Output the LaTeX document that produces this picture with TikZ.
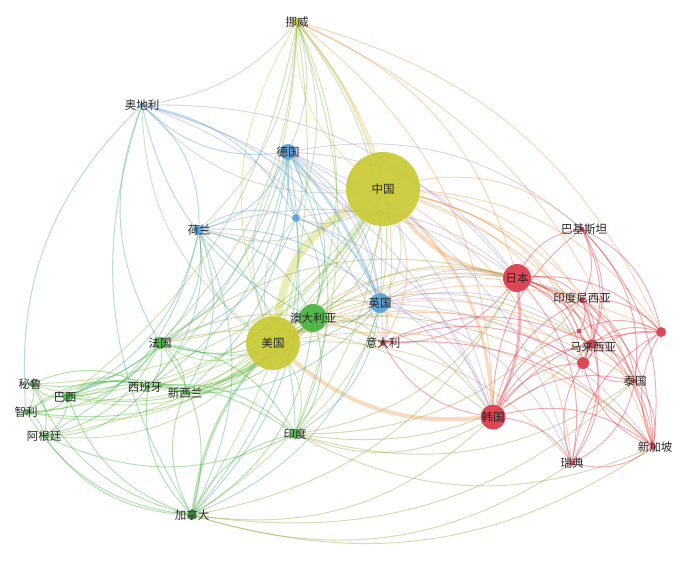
\documentclass[tikz,border=0pt]{standalone}
\usepackage{fontspec}
\newfontfamily\cjk{Noto Sans CJK SC}
\pgfdeclarelayer{edges}
\pgfsetlayers{edges,main}
\definecolor{yel}{RGB}{200,200,48}
\definecolor{blu}{RGB}{82,158,218}
\definecolor{grn}{RGB}{66,178,58}
\definecolor{rd}{RGB}{218,52,68}
\definecolor{orng}{RGB}{238,150,72}
\definecolor{prp}{RGB}{170,150,210}

\begin{document}
\begin{tikzpicture}[x=1pt, y=-1pt,
  country/.style 2 args={circle, inner sep=0pt, fill=#1, fill opacity=.9, minimum size=#2},
  every label/.style={font=\cjk\fontsize{11.5}{11.5}\selectfont, text=black!85, text opacity=1, inner sep=0pt},
  link/.style={draw=#1, line width=1pt, opacity=.4},
  band/.style 2 args={draw=#1, line width=#2, opacity=.35}]
  \useasboundingbox (0,0) rectangle (700,562);

  % yellow
  \node[country={yel}{74pt}, label=center:中国] (china) at (383,189) {};
  \node[country={yel}{54pt}, label=center:美国] (usa) at (273,343) {};
  \node[country={yel}{8pt}, label=center:挪威] (norway) at (297,22) {};
  % blue
  \node[country={blu}{16pt}, label=center:德国] (germany) at (288,152) {};
  \node[country={blu}{8pt}] (bluex) at (296,218) {};
  \node[country={blu}{10pt}, label=center:荷兰] (netherlands) at (199,230) {};
  \node[country={blu}{4pt}, label=center:奥地利] (austria) at (142,105) {};
  \node[country={blu}{20pt}, label=center:英国] (uk) at (380,303) {};
  % green
  \node[country={grn}{28pt}, label=center:澳大利亚] (australia) at (313,318) {};
  \node[country={grn}{12pt}, label=center:法国] (france) at (160,343) {};
  \node[country={grn}{5pt}, label={[xshift=-3pt]center:西班牙}] (spain) at (148,387) {};
  \node[country={grn}{4pt}, label=center:新西兰] (newzealand) at (185,393) {};
  \node[country={grn}{6pt}, label={[xshift=-2pt]center:秘鲁}] (peru) at (32,384) {};
  \node[country={grn}{10pt}, label={[xshift=-3pt]center:巴西}] (brazil) at (68,397) {};
  \node[country={grn}{6pt}, label=center:智利] (chile) at (26,412) {};
  \node[country={grn}{4pt}, label=center:阿根廷] (argentina) at (44,436) {};
  \node[country={grn}{10pt}, label=center:印度] (india) at (295,434) {};
  \node[country={grn}{10pt}, label=center:加拿大] (canada) at (192,515) {};
  % red
  \node[country={rd}{6pt}, label=center:意大利] (italy) at (383,343) {};
  \node[country={rd}{28pt}, label=center:日本] (japan) at (517,278) {};
  \node[country={rd}{25pt}, label=center:韩国] (korea) at (493,417) {};
  \node[country={rd}{5pt}, label={[xshift=2pt]center:巴基斯坦}] (pakistan) at (582,229) {};
  \node[country={rd}{6pt}, label={[yshift=2pt]center:印度尼西亚}] (indonesia) at (582,300) {};
  \node[country={rd}{5pt}] (redA) at (579,331) {};
  \node[country={rd}{10pt}] (redR) at (661,332) {};
  \node[country={rd}{10pt}, label={[xshift=1pt,yshift=-3pt]center:马来西亚}] (malaysia) at (592,344) {};
  \node[country={rd}{12pt}] (redC) at (583,363) {};
  \node[country={rd}{5pt}, label=center:泰国] (thailand) at (635,381) {};
  \node[country={rd}{6pt}, label={[xshift=2pt]center:新加坡}] (singapore) at (653,447) {};
  \node[country={rd}{5pt}, label=center:瑞典] (sweden) at (572,463) {};

  \begin{pgfonlayer}{edges}
  % thick links
  \draw[band={yel}{8pt}] (usa) to[bend left=25] (china);
  \draw[band={orng}{4pt}] (china) to[bend right=20] (japan);
  \draw[band={orng}{3pt}] (china) to[bend left=20] (korea);
  \draw[band={orng}{4pt}] (usa) to[bend right=22] (korea);
  \draw[band={grn}{3pt}] (usa) to[bend left=15] (australia);
  \draw[band={grn}{3pt}] (usa) to[bend right=15] (canada);
  \draw[band={rd}{3pt}] (japan) to[bend left=15] (korea);
  \draw[band={blu}{3pt}] (germany) to[bend left=10] (uk);
  \draw[band={blu}{2pt}] (germany) to[bend right=10] (bluex);
  \draw[band={yel}{2.5pt}] (norway) to[bend left=10] (china);

  % china
  \foreach \t in {norway}
    \draw[link=yel] (china) to[bend left=25] (\t);
  \foreach \t in {germany,uk,netherlands,austria,bluex}
    \draw[link=yel!50!blu] (china) to[bend left=25] (\t);
  \foreach \t in {australia,france,canada,india,brazil,spain,newzealand,peru,chile,argentina}
    \draw[link=yel!50!grn] (china) to[bend left=25] (\t);
  \foreach \t in {italy,pakistan,indonesia,malaysia,thailand,singapore,sweden,redA,redC,redR}
    \draw[link=orng] (china) to[bend left=25] (\t);

  % usa
  \foreach \t in {norway}
    \draw[link=yel] (usa) to[bend left=25] (\t);
  \foreach \t in {germany,uk,netherlands,austria,bluex}
    \draw[link=yel!50!blu] (usa) to[bend left=25] (\t);
  \foreach \t in {france,india,brazil,spain,newzealand,peru,chile,argentina}
    \draw[link=yel!50!grn] (usa) to[bend left=25] (\t);
  \foreach \t in {japan,italy,indonesia,malaysia,thailand,singapore,sweden,redC,redR}
    \draw[link=orng] (usa) to[bend left=25] (\t);

  % norway
  \foreach \t in {germany,uk,netherlands,bluex,austria}
    \draw[link=yel!50!blu] (norway) to[bend left=20] (\t);
  \foreach \t in {australia,canada,france,india,brazil,spain}
    \draw[link=yel!50!grn] (norway) to[bend left=20] (\t);
  \foreach \t in {japan,korea,redR,singapore,italy}
    \draw[link=orng] (norway) to[bend left=25] (\t);

  % germany
  \foreach \t in {austria,netherlands,bluex,uk}
    \draw[link=blu] (germany) to[bend left=25] (\t);
  \foreach \t in {australia,france,canada,india,spain,brazil,newzealand}
    \draw[link=blu!50!grn] (germany) to[bend left=25] (\t);
  \foreach \t in {japan,korea,italy,sweden,pakistan}
    \draw[link=prp] (germany) to[bend left=25] (\t);

  % austria
  \foreach \t in {netherlands,bluex,uk}
    \draw[link=blu] (austria) to[bend left=25] (\t);
  \foreach \t in {australia,france,canada,chile}
    \draw[link=blu!50!grn] (austria) to[bend right=25] (\t);
  \foreach \t in {korea,italy,japan}
    \draw[link=prp] (austria) to[bend left=25] (\t);

  % netherlands
  \foreach \t in {uk,bluex}
    \draw[link=blu] (netherlands) to[bend left=25] (\t);
  \foreach \t in {australia,france,canada,brazil,spain,india,newzealand,argentina}
    \draw[link=blu!50!grn] (netherlands) to[bend left=25] (\t);
  \foreach \t in {korea,japan}
    \draw[link=prp] (netherlands) to[bend left=25] (\t);

  % bluex
  \foreach \t in {uk}
    \draw[link=blu] (bluex) to[bend left=25] (\t);
  \foreach \t in {australia,canada,france}
    \draw[link=blu!50!grn] (bluex) to[bend left=25] (\t);
  \foreach \t in {japan,korea}
    \draw[link=prp] (bluex) to[bend left=25] (\t);

  % uk
  \foreach \t in {australia,france,canada,india,newzealand}
    \draw[link=blu!50!grn] (uk) to[bend left=25] (\t);
  \foreach \t in {japan,korea,italy,malaysia,singapore,indonesia,sweden,redC}
    \draw[link=prp] (uk) to[bend left=25] (\t);

  % australia
  \foreach \t in {france,canada,newzealand,india,brazil,spain,chile}
    \draw[link=grn] (australia) to[bend left=25] (\t);
  \foreach \t in {japan,korea,malaysia,indonesia,singapore,italy}
    \draw[link=grn!50!orng] (australia) to[bend left=25] (\t);

  % france
  \foreach \t in {canada,brazil,spain,peru,chile,argentina,newzealand,india}
    \draw[link=grn] (france) to[bend left=25] (\t);
  \foreach \t in {korea,japan,italy}
    \draw[link=grn!50!orng] (france) to[bend left=25] (\t);

  % canada
  \foreach \t in {india,brazil,spain,newzealand,chile,argentina,peru}
    \draw[link=grn] (canada) to[bend left=25] (\t);
  \foreach \t in {korea,japan,singapore,sweden,thailand}
    \draw[link=grn!50!orng] (canada) to[bend right=25] (\t);

  % south america and the rest of green
  \foreach \t in {peru,chile,argentina,spain,india,newzealand}
    \draw[link=grn] (brazil) to[bend left=25] (\t);
  \foreach \t in {chile,argentina,spain}
    \draw[link=grn] (peru) to[bend left=25] (\t);
  \foreach \t in {argentina,spain,newzealand}
    \draw[link=grn] (chile) to[bend left=25] (\t);
  \foreach \t in {spain,india}
    \draw[link=grn] (argentina) to[bend right=25] (\t);
  \foreach \t in {newzealand,india}
    \draw[link=grn] (spain) to[bend left=25] (\t);
  \foreach \t in {korea,japan,malaysia,singapore,indonesia,thailand}
    \draw[link=grn!50!orng] (india) to[bend right=25] (\t);

  % red
  \foreach \t in {indonesia,malaysia,thailand,singapore,pakistan,redA,redC,redR,sweden,italy}
    \draw[link=rd] (japan) to[bend left=25] (\t);
  \foreach \t in {malaysia,thailand,singapore,indonesia,sweden,pakistan,redA,redC,redR,italy}
    \draw[link=rd] (korea) to[bend left=25] (\t);
  \foreach \t in {redC,malaysia,singapore}
    \draw[link=rd] (italy) to[bend left=25] (\t);
  \foreach \t in {indonesia,malaysia,redR,redC,thailand,singapore}
    \draw[link=rd] (pakistan) to[bend left=25] (\t);
  \foreach \t in {malaysia,redA,redC,redR,thailand,singapore,sweden}
    \draw[link=rd] (indonesia) to[bend left=25] (\t);
  \foreach \t in {redA,redC,redR,thailand,singapore,sweden}
    \draw[link=rd] (malaysia) to[bend left=25] (\t);
  \foreach \t in {redC,redR,singapore,sweden}
    \draw[link=rd] (thailand) to[bend left=25] (\t);
  \foreach \t in {redC,redR,sweden}
    \draw[link=rd] (singapore) to[bend left=25] (\t);
  \foreach \t in {redC,redR}
    \draw[link=rd] (sweden) to[bend left=25] (\t);
  \draw[link=rd] (redA) to[bend left=25] (redC);
  \draw[link=rd] (redA) to[bend left=25] (redR);
  \draw[link=rd] (redC) to[bend left=25] (redR);
  \end{pgfonlayer}
\end{tikzpicture}
\end{document}
